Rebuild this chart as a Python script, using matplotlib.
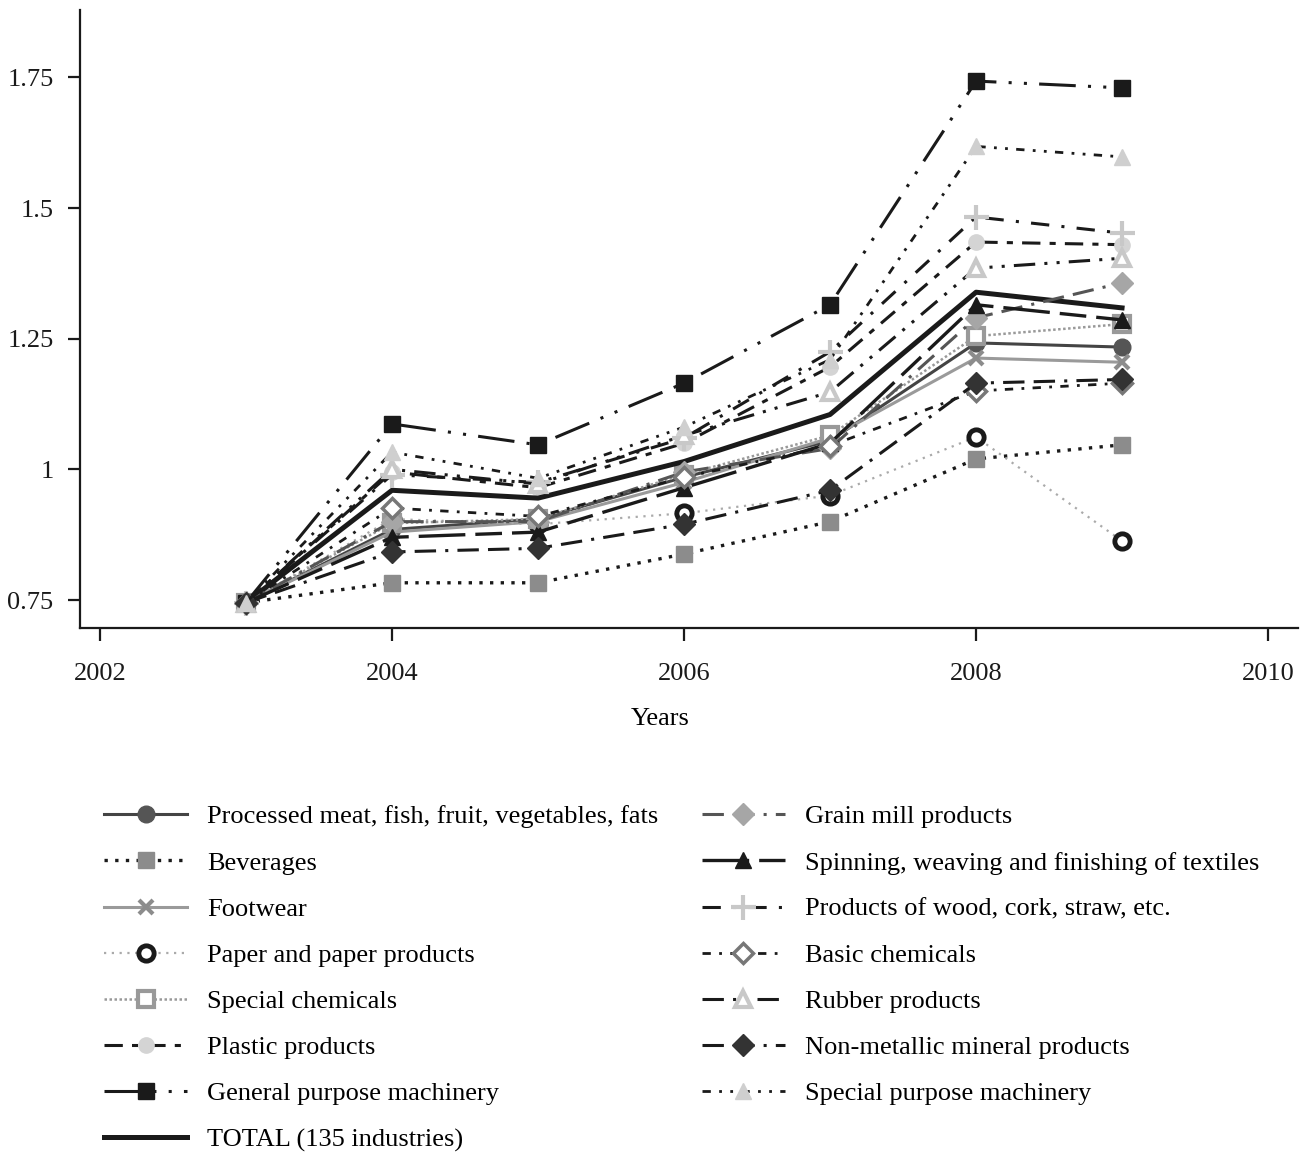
import matplotlib
matplotlib.use("Agg")
import matplotlib.pyplot as plt

plt.rcParams['font.family'] = ['Liberation Serif', 'DejaVu Serif']

years = [2003, 2004, 2005, 2006, 2007, 2008, 2009]

labels = [
    "Processed meat, fish, fruit, vegetables, fats",
    "Beverages",
    "Footwear",
    "Paper and paper products",
    "Special chemicals",
    "Plastic products",
    "General purpose machinery",
    "TOTAL (135 industries)",
    "Grain mill products",
    "Spinning, weaving and finishing of textiles",
    "Products of wood, cork, straw, etc.",
    "Basic chemicals",
    "Rubber products",
    "Non-metallic mineral products",
    "Special purpose machinery",
]

processed_meat = [0.745, 0.885, 0.905, 0.985, 1.055, 1.242, 1.234]
beverages      = [0.745, 0.783, 0.783, 0.838, 0.900, 1.020, 1.047]
footwear       = [0.745, 0.880, 0.900, 0.975, 1.060, 1.213, 1.205]
paper          = [0.745, 0.905, 0.895, 0.916, 0.950, 1.062, 0.863]
special_chem   = [0.745, 0.897, 0.905, 0.990, 1.065, 1.255, 1.278]
plastic        = [0.745, 0.995, 0.965, 1.050, 1.196, 1.435, 1.430]
general_mach   = [0.745, 1.087, 1.047, 1.165, 1.315, 1.743, 1.730]
total          = [0.745, 0.960, 0.945, 1.015, 1.105, 1.339, 1.309]
grain_mill     = [0.745, 0.900, 0.900, 0.995, 1.040, 1.290, 1.357]
spinning       = [0.745, 0.870, 0.880, 0.965, 1.050, 1.315, 1.286]
wood           = [0.745, 0.990, 0.975, 1.060, 1.225, 1.483, 1.452]
basic_chem     = [0.745, 0.926, 0.910, 0.985, 1.045, 1.150, 1.165]
rubber         = [0.745, 1.000, 0.972, 1.065, 1.148, 1.385, 1.404]
non_metallic   = [0.745, 0.842, 0.849, 0.895, 0.960, 1.165, 1.172]
special_mach   = [0.745, 1.033, 0.983, 1.081, 1.210, 1.618, 1.598]

series = [processed_meat, beverages, footwear, paper, special_chem, plastic,
          general_mach, total, grain_mill, spinning, wood, basic_chem,
          rubber, non_metallic, special_mach]

K = '#1a1a1a'
styles = [
    dict(color='#444444', ls='-', lw=2.2, marker='o', ms=12, mfc='#555555', mec='#555555'),
    dict(color=K, ls=(0, (1, 2.2)), lw=2.4, marker='s', ms=12, mfc='#8c8c8c', mec='#8c8c8c'),
    dict(color='#9a9a9a', ls='-', lw=2.2, marker='x', ms=10, mew=3, mfc='#8c8c8c', mec='#8c8c8c'),
    dict(color='#aaaaaa', ls=(0, (1, 2.5)), lw=1.6, marker='o', ms=11, mfc='white', mec=K, mew=3.5),
    dict(color='#999999', ls=(0, (1, 1)), lw=1.8, marker='s', ms=11, mfc='white', mec='#999999', mew=3),
    dict(color=K, ls=(0, (6, 3, 2, 3)), lw=2.2, marker='o', ms=11, mfc='#d4d4d4', mec='#d4d4d4'),
    dict(color=K, ls=(0, (12, 4, 1, 4, 1, 4)), lw=2.2, marker='s', ms=11, mfc=K, mec=K),
    dict(color=K, ls='-', lw=3.6, marker=None),
    dict(color='#555555', ls=(0, (7, 3, 7, 3, 1, 3)), lw=2.2, marker='D', ms=11, mfc='#a6a6a6', mec='#a6a6a6'),
    dict(color=K, ls=(0, (14, 3, 8, 3)), lw=2.4, marker='^', ms=12, mfc=K, mec=K),
    dict(color=K, ls=(0, (6, 4, 1, 4)), lw=2.2, marker='+', ms=18, mew=3, mfc='#c8c8c8', mec='#c8c8c8'),
    dict(color=K, ls=(0, (3, 3, 1, 3)), lw=2.0, marker='D', ms=10, mfc='white', mec='#777777', mew=2.5),
    dict(color=K, ls=(0, (7, 3, 1, 3, 1, 3)), lw=2.2, marker='^', ms=12, mfc='white', mec='#c8c8c8', mew=3),
    dict(color=K, ls=(0, (7, 3, 7, 3, 1, 3)), lw=2.2, marker='D', ms=11, mfc='#333333', mec='#333333'),
    dict(color=K, ls=(0, (3, 3, 1, 3, 1, 3)), lw=2.0, marker='^', ms=12, mfc='#cfcfcf', mec='#cfcfcf'),
]

fig = plt.figure(figsize=(13.12, 11.52), dpi=100)
ax = fig.add_axes([80/1312, 1 - 628/1152, (1298-80)/1312, (628-10)/1152])

for vals, lab, st in zip(series, labels, styles):
    ax.plot(years, vals, label=lab, **st)

ax.set_xlim(2001.863, 2010.205)
ax.set_ylim(0.6965, 1.879)
ax.set_xticks([2002, 2004, 2006, 2008, 2010])
ax.set_xticklabels(["2002", "2004", "2006", "2008", "2010"])
ax.set_yticks([0.75, 1.0, 1.25, 1.5, 1.75])
ax.set_yticklabels(["0.75", "1", "1.25", "1.5", "1.75"])
for s in ['top', 'right']:
    ax.spines[s].set_visible(False)
for s in ['left', 'bottom']:
    ax.spines[s].set_linewidth(1.6)
    ax.spines[s].set_color(K)
ax.tick_params(axis='both', direction='out', length=9, width=1.6, labelsize=19, colors=K)
ax.tick_params(axis='y', pad=10)
ax.tick_params(axis='x', pad=16)
ax.set_xlabel("Years", fontsize=19)
ax.xaxis.set_label_coords((660 - 80) / (1298 - 80), -(720 - 628 - 12) / (628 - 10))

fig.legend(loc='upper left', bbox_to_anchor=(104/1312, 1 - 805/1152), ncol=2,
           frameon=False, fontsize=19, handlelength=3.15, handletextpad=0.75,
           columnspacing=1.65, labelspacing=0.86, borderpad=0, borderaxespad=0)

fig.savefig("out.png", dpi=100)
